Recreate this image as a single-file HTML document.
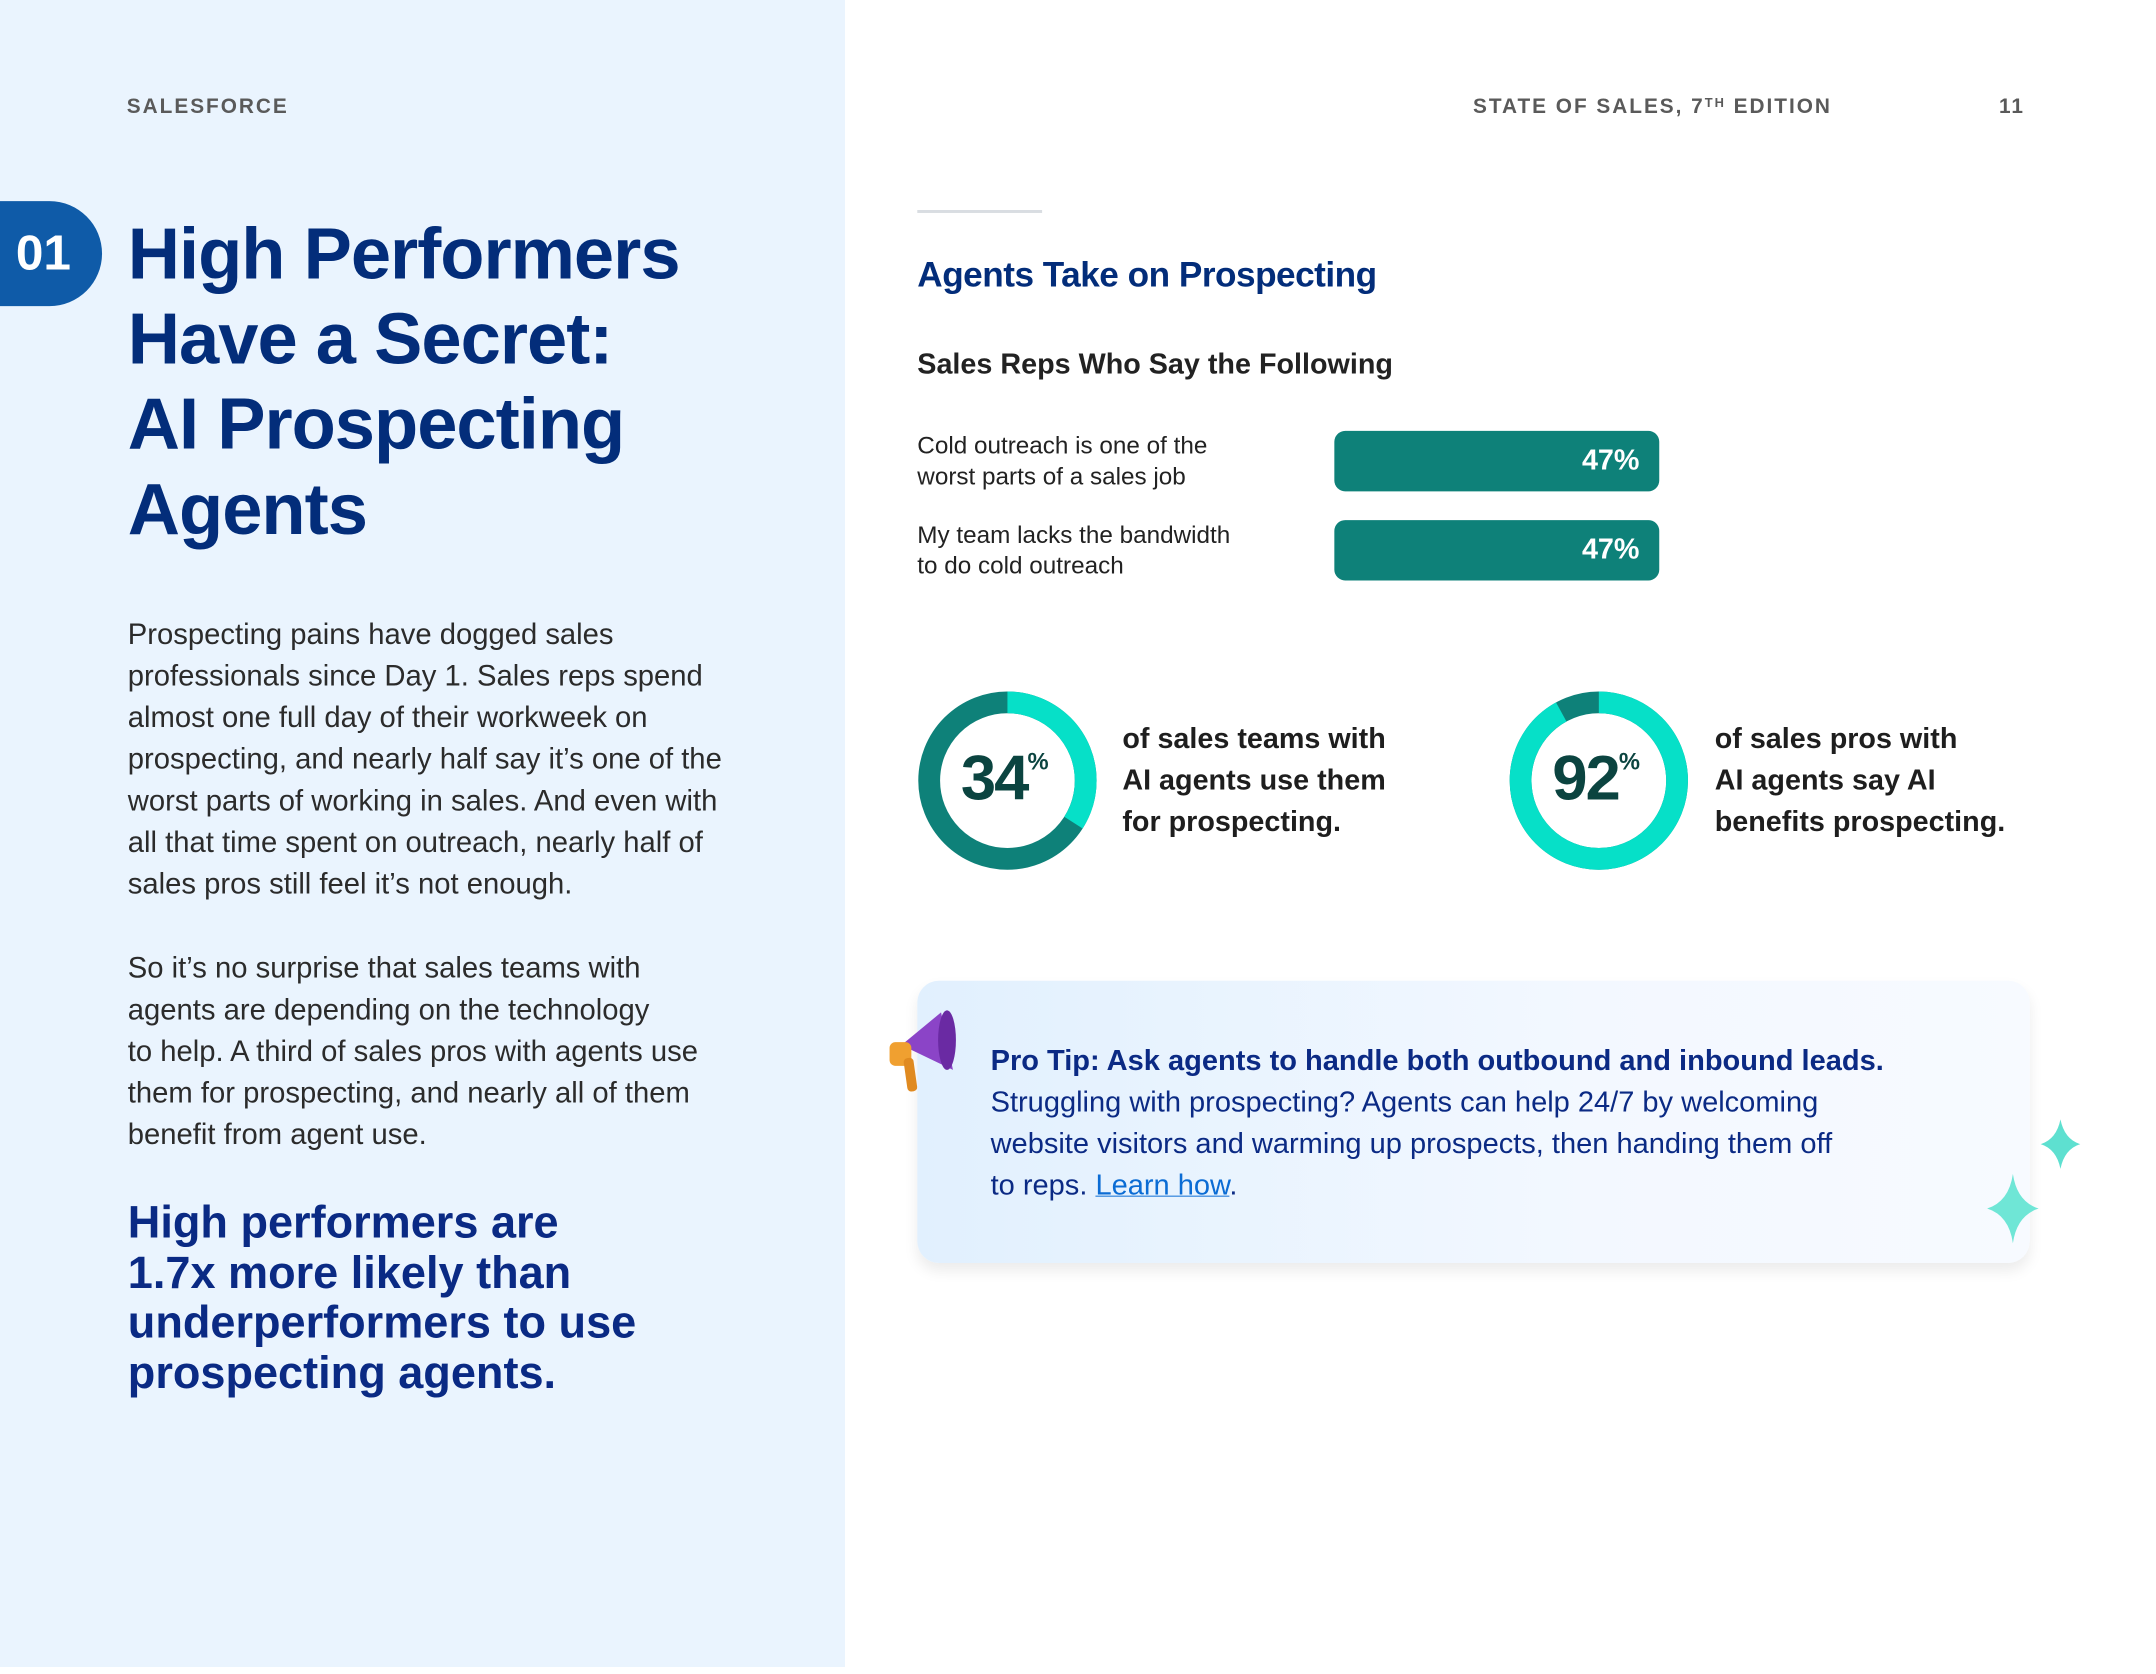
<!DOCTYPE html>
<html><head><meta charset="utf-8"><style>
*{margin:0;padding:0;box-sizing:border-box}
body{width:2156px;height:1667px;position:relative;background:#fff;font-family:"Liberation Sans",sans-serif;overflow:hidden}
#left{position:absolute;left:0;top:0;width:845px;height:1667px;background:#eaf4fe}
#w{position:absolute;left:0;top:0;width:2180px;height:1690px;transform:scale(0.9906);transform-origin:0 0}
.a{position:absolute;white-space:nowrap}
.hdr{font-size:21px;letter-spacing:2px;color:#5a5a5a;font-weight:bold}
.title{left:129px;top:214px;font-size:73px;font-weight:bold;color:#032d7a;line-height:86px;letter-spacing:-1px}
.body{left:129px;font-size:29.5px;line-height:42px;color:#2b2b2b}
.callout{left:129px;top:1209px;font-size:45.5px;line-height:50.5px;font-weight:bold;color:#0a2a84}
.lbl{font-size:24.5px;line-height:31px;color:#222}
.bar{position:absolute;left:1347px;width:328px;height:61px;background:#0e8179;border-radius:11px;color:#fff;font-weight:bold;font-size:29px;text-align:right;padding-right:20px;line-height:61px}
.dt{font-size:29px;line-height:42px;font-weight:bold;color:#1e1e1e}
.tip{font-size:29.3px;line-height:42px;color:#0b2a84}
</style></head><body>
<div id="left"></div>
<div id="w">
<div class="a hdr" style="left:128px;top:96px">SALESFORCE</div>
<div class="a hdr" style="left:1487px;top:96px">STATE OF SALES, 7<span style="font-size:13px;vertical-align:6px">TH</span> EDITION</div>
<div class="a hdr" style="left:2018px;top:96px">11</div>
<div style="position:absolute;left:0;top:203px;width:103px;height:106px;background:#0f5ba8;border-radius:0 53px 53px 0"></div>
<div class="a" style="left:16px;top:226px;font-size:50px;font-weight:bold;color:#fff">01</div>
<div class="a title">High Performers<br>Have a Secret:<br>AI Prospecting<br>Agents</div>
<div class="a body" style="top:620px">Prospecting pains have dogged sales<br>professionals since Day 1. Sales reps spend<br>almost one full day of their workweek on<br>prospecting, and nearly half say it’s one of the<br>worst parts of working in sales. And even with<br>all that time spent on outreach, nearly half of<br>sales pros still feel it’s not enough.</div>
<div class="a body" style="top:957px">So it’s no surprise that sales teams with<br>agents are depending on the technology<br>to help. A third of sales pros with agents use<br>them for prospecting, and nearly all of them<br>benefit from agent use.</div>
<div class="a callout">High performers are<br>1.7x more likely than<br>underperformers to use<br>prospecting agents.</div>

<div style="position:absolute;left:926px;top:212px;width:126px;height:3px;background:#d9dde2"></div>
<div class="a" style="left:926px;top:257px;font-size:35.5px;font-weight:bold;color:#032d7a;letter-spacing:-0.5px">Agents Take on Prospecting</div>
<div class="a" style="left:926px;top:352px;font-size:29px;font-weight:bold;color:#222">Sales Reps Who Say the Following</div>
<div class="a lbl" style="left:926px;top:435px">Cold outreach is one of the<br>worst parts of a sales job</div>
<div class="a lbl" style="left:926px;top:525px">My team lacks the bandwidth<br>to do cold outreach</div>
<div class="bar" style="top:435px">47%</div>
<div class="bar" style="top:525px">47%</div>

<svg class="a" style="left:0;top:0" width="2180" height="1690">
<g transform="translate(1017,788) rotate(-90)">
<circle r="79" fill="none" stroke="#0e8179" stroke-width="22"/>
<circle r="79" fill="none" stroke="#06e0c8" stroke-width="22" stroke-dasharray="168.8 500"/>
</g>
<g transform="translate(1614,788) rotate(-90)">
<circle r="79" fill="none" stroke="#0e8179" stroke-width="22"/>
<circle r="79" fill="none" stroke="#06e0c8" stroke-width="22" stroke-dasharray="456.6 500"/>
</g>
</svg>
<div class="a" style="left:970px;top:748px;font-size:64px;font-weight:bold;color:#0b4440;letter-spacing:-2px">34<span style="font-size:24px;vertical-align:30px;letter-spacing:0">%</span></div>
<div class="a" style="left:1567px;top:748px;font-size:64px;font-weight:bold;color:#0b4440;letter-spacing:-2px">92<span style="font-size:24px;vertical-align:30px;letter-spacing:0">%</span></div>
<div class="a dt" style="left:1133px;top:725px">of sales teams with<br>AI agents use them<br>for prospecting.</div>
<div class="a dt" style="left:1731px;top:725px">of sales pros with<br>AI agents say AI<br>benefits prospecting.</div>

<div style="position:absolute;left:926px;top:990px;width:1123px;height:285px;border-radius:22px;background:linear-gradient(90deg,#e1f0fe,#f3f8ff 60%,#f7faff);box-shadow:0 8px 14px rgba(0,0,0,0.08)"></div>
<svg class="a" style="left:890px;top:1010px" width="90" height="95">
<path d="M20 45 L60 12 L72 70 Z" fill="#8b44c7"/>
<ellipse cx="66" cy="40" rx="9" ry="30" fill="#6a2aa3"/>
<rect x="8" y="42" width="22" height="24" rx="6" fill="#f0a030"/>
<rect x="22" y="58" width="10" height="34" rx="4" fill="#e08a20" transform="rotate(-8 27 60)"/>
</svg>
<div class="a tip" style="left:1000px;top:1050px"><b>Pro Tip: Ask agents to handle both outbound and inbound leads.</b><br>Struggling with prospecting? Agents can help 24/7 by welcoming<br>website visitors and warming up prospects, then handing them off<br>to reps. <span style="color:#0b6cd4;text-decoration:underline;text-decoration-thickness:1px">Learn how</span>.</div>
<svg class="a" style="left:2000px;top:1125px" width="110" height="140">
<path d="M80 5 Q84 25 100 30 Q84 35 80 55 Q76 35 60 30 Q76 25 80 5Z" fill="#5ee0d0"/>
<path d="M32 60 Q36 88 58 95 Q36 102 32 130 Q28 102 6 95 Q28 88 32 60Z" fill="#6fe6d6"/>
</svg>
</div>
</body></html>
